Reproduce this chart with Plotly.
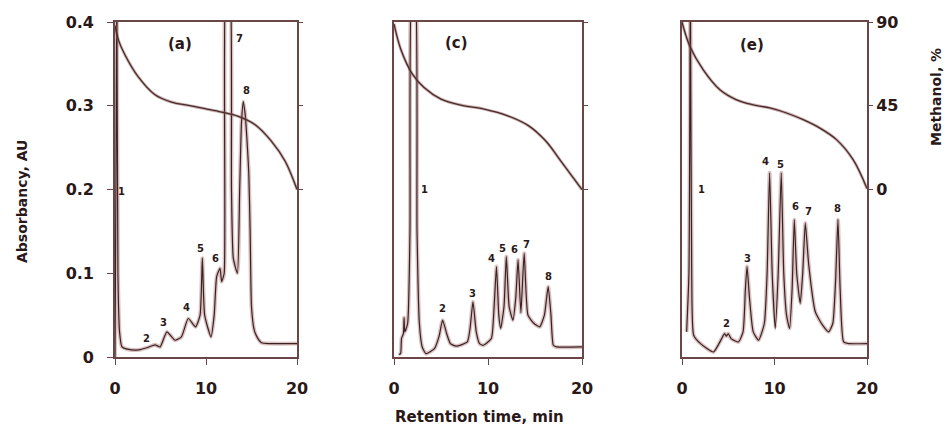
import plotly.graph_objects as go

# ---------------- data ----------------
# Panel (a) chromatogram: retention time (min) and absorbancy (AU)
t_a = [0.0, 0.1, 0.2, 0.32, 0.5, 0.75, 1.5, 2.6, 3.5, 4.4, 4.95, 5.7, 6.6, 7.3, 8.05, 8.85,
       9.35, 9.6, 9.85, 10.55, 10.9, 11.17, 11.54, 11.72, 12.0, 12.2, 12.4, 12.6, 12.8, 13.0,
       13.45, 13.7, 13.9, 14.1, 14.3, 14.5, 14.7, 14.85, 15.0, 15.3, 15.6, 16.1, 17.0, 20.0]
abs_a = [0.0, 0.2, 0.45, 0.1, 0.03, 0.0125, 0.009, 0.0085, 0.011, 0.0145, 0.012, 0.030, 0.020,
         0.024, 0.046, 0.036, 0.05, 0.118, 0.05, 0.024, 0.05, 0.096, 0.106, 0.09, 0.10, 0.45,
         0.45, 0.45, 0.2, 0.118, 0.10, 0.2, 0.28, 0.305, 0.29, 0.26, 0.22, 0.15, 0.06, 0.032,
         0.024, 0.017, 0.016, 0.016]

# Panel (c)
t_c = [0.5, 0.7, 0.8, 1.0, 1.07, 1.15, 1.45, 1.7, 1.95, 2.2, 2.45, 2.7, 3.0, 3.4, 4.3, 4.8,
       5.17, 5.6, 6.0, 6.6, 7.8, 8.1, 8.4, 8.75, 9.1, 9.5, 10.35, 10.65, 10.9, 11.15, 11.35,
       11.7, 11.95, 12.25, 12.65, 12.95, 13.2, 13.5, 13.85, 14.25, 14.9, 15.5, 16.0, 16.4,
       16.7, 16.95, 17.3, 20.0]
abs_c = [0.003, 0.004, 0.022, 0.028, 0.047, 0.03, 0.04, 0.15, 0.45, 0.45, 0.15, 0.04, 0.012,
         0.004, 0.01, 0.025, 0.044, 0.028, 0.016, 0.013, 0.018, 0.035, 0.066, 0.03, 0.016,
         0.014, 0.022, 0.06, 0.108, 0.05, 0.034, 0.06, 0.12, 0.06, 0.044, 0.07, 0.116, 0.053,
         0.124, 0.05, 0.04, 0.036, 0.05, 0.084, 0.05, 0.014, 0.012, 0.012]

# Panel (e)
t_e = [0.5, 0.75, 0.9, 1.05, 1.26, 2.0, 3.4, 4.29, 4.6, 4.8, 5.0, 5.3, 6.1, 6.6, 6.85, 7.03,
       7.3, 7.7, 8.28, 8.9, 9.2, 9.47, 9.75, 10.08, 10.4, 10.73, 11.0, 11.3, 11.63, 11.9,
       12.14, 12.4, 12.78, 13.05, 13.33, 13.7, 14.41, 15.2, 15.85, 16.3, 16.6, 16.86, 17.1,
       17.47, 18.0, 20.0]
abs_e = [0.03, 0.1, 0.45, 0.1, 0.026, 0.016, 0.006, 0.022, 0.028, 0.025, 0.028, 0.022, 0.018,
         0.03, 0.08, 0.108, 0.07, 0.03, 0.020, 0.04, 0.1, 0.22, 0.1, 0.034, 0.1, 0.22, 0.1,
         0.05, 0.034, 0.08, 0.164, 0.1, 0.064, 0.1, 0.160, 0.11, 0.054, 0.038, 0.030, 0.04,
         0.09, 0.164, 0.08, 0.018, 0.016, 0.016]

# Methanol gradient (%), per panel
grad_t_a = [0.0, 0.4, 1.1, 2.56, 4.4, 6.2, 8.05, 9.9, 11.7, 13.55, 15.4, 17.2, 18.7, 20.0]
grad_a = [88.0, 80.0, 72.3, 60.5, 50.9, 47.0, 45.2, 43.4, 41.6, 39.3, 34.8, 25.9, 15.2, 0.0]
grad_t_c = [0.0, 0.72, 1.96, 3.2, 5.0, 7.1, 9.6, 12.1, 14.3, 16.1, 17.85, 20.0]
grad_c = [89.0, 75.4, 62.0, 54.8, 48.6, 45.4, 43.2, 39.6, 34.3, 26.3, 14.6, 0.0]
grad_t_e = [0.0, 0.86, 2.3, 4.1, 5.9, 7.7, 9.5, 11.3, 13.1, 14.9, 16.7, 18.5, 20.0]
grad_e = [90.0, 76.8, 64.3, 53.6, 48.2, 45.5, 43.8, 41.1, 37.5, 33.0, 26.8, 16.0, 0.5]

# Peak labels and where they sit (time, AU)
peak_names = ["1", "2", "3", "4", "5", "6", "7", "8"]
label_t_a = [0.75, 3.5, 5.3, 7.9, 9.45, 11.0, 13.7, 14.5]
label_y_a = [0.198, 0.022, 0.041, 0.059, 0.130, 0.118, 0.380, 0.318]
label_t_c = [3.2, 5.17, 8.4, 10.35, 11.5, 12.8, 14.1, 16.4]
label_y_c = [0.200, 0.058, 0.076, 0.118, 0.130, 0.128, 0.134, 0.096]
label_t_e = [2.16, 4.86, 7.03, 9.0, 10.63, 12.25, 13.7, 16.8]
label_y_e = [0.200, 0.040, 0.118, 0.233, 0.230, 0.180, 0.174, 0.177]

panel_names = ["(a)", "(c)", "(e)"]
panel_label_t = [7.1, 6.6, 7.6]
panel_label_y = [0.374, 0.375, 0.372]

x_ticks = [0, 10, 20]
x_ticktext = ["0", "10", "20"]
au_ticks = [0, 0.1, 0.2, 0.3, 0.4]
au_ticktext = ["0", "0.1", "0.2", "0.3", "0.4"]
meoh_ticks = [0, 45, 90]
meoh_ticktext = ["0", "45", "90"]

# ---------------- styling ----------------
W, H = 947, 428
INK = "#3a2222"
HALO = "rgba(176,120,120,0.45)"
AXIS = "#6a4646"
FONT = "DejaVu Sans"
TXT = "#2a1818"

x_dom = [[115 / W, 297 / W], [394 / W, 582 / W], [682 / W, 867 / W]]
y_dom = [(H - 357) / H, (H - 22) / H]

fig = go.Figure()

panels = [
    (t_a, abs_a, grad_t_a, grad_a, label_t_a, label_y_a),
    (t_c, abs_c, grad_t_c, grad_c, label_t_c, label_y_c),
    (t_e, abs_e, grad_t_e, grad_e, label_t_e, label_y_e),
]

for i, (tt, aa, gt, gg, lt, ly) in enumerate(panels):
    xa = "x" if i == 0 else f"x{i+1}"
    ya = "y" if i == 0 else f"y{i+1}"
    ym = f"y{i+4}"
    fig.add_trace(go.Scatter(x=tt, y=aa, xaxis=xa, yaxis=ya, mode="lines",
                             line=dict(color=HALO, width=4, shape="spline", smoothing=0.5),
                             hoverinfo="skip", showlegend=False))
    fig.add_trace(go.Scatter(x=tt, y=aa, xaxis=xa, yaxis=ya, mode="lines",
                             line=dict(color=INK, width=1.2, shape="spline", smoothing=0.5),
                             showlegend=False))
    fig.add_trace(go.Scatter(x=gt, y=gg, xaxis=xa, yaxis=ym, mode="lines",
                             line=dict(color="rgba(150,100,100,0.5)", width=3, shape="spline"),
                             hoverinfo="skip", showlegend=False))
    fig.add_trace(go.Scatter(x=gt, y=gg, xaxis=xa, yaxis=ym, mode="lines",
                             line=dict(color="#4a2a2a", width=1.3, shape="spline"),
                             showlegend=False))
    for name, px, py in zip(peak_names, lt, ly):
        fig.add_annotation(x=px, y=py, xref=xa, yref=ya, text=name, showarrow=False,
                           xanchor="center", yanchor="middle",
                           font=dict(family=FONT, size=10, color=TXT, weight="bold"))
    fig.add_annotation(x=panel_label_t[i], y=panel_label_y[i], xref=xa, yref=ya,
                       text=panel_names[i], showarrow=False,
                       xanchor="center", yanchor="middle",
                       font=dict(family=FONT, size=15, color=TXT, weight="bold"))

    xkey = "xaxis" if i == 0 else f"xaxis{i+1}"
    ykey = "yaxis" if i == 0 else f"yaxis{i+1}"
    mkey = f"yaxis{i+4}"
    fig.update_layout(**{
        xkey: dict(domain=x_dom[i], range=[0, 20], anchor=ya, tickvals=x_ticks,
                   ticktext=x_ticktext, ticks="outside", ticklen=6, tickcolor=AXIS,
                   showline=True, linecolor=AXIS, linewidth=1.6, mirror=True,
                   showgrid=False, zeroline=False, ticklabelstandoff=10,
                   tickfont=dict(family=FONT, size=16, color=TXT, weight="bold"),
                   automargin=False),
        ykey: dict(domain=y_dom, range=[0, 0.4], anchor=xa, tickvals=au_ticks,
                   ticktext=au_ticktext, ticks="outside" if i == 0 else "",
                   ticklen=6, tickcolor=AXIS, showticklabels=(i == 0),
                   showline=True, linecolor=AXIS, linewidth=1.6, mirror=True,
                   showgrid=False, zeroline=False, ticklabelstandoff=10,
                   tickfont=dict(family=FONT, size=16, color=TXT, weight="bold"),
                   automargin=False),
        mkey: dict(overlaying=ya, anchor=xa, side="right", range=[-90, 90],
                   tickvals=meoh_ticks, ticktext=meoh_ticktext, ticks="outside",
                   ticklen=5, tickcolor=AXIS, showticklabels=(i == 2),
                   showline=False, showgrid=False, zeroline=False, ticklabelstandoff=0,
                   tickfont=dict(family=FONT, size=16, color=TXT, weight="bold"),
                   automargin=False),
    })

# axis titles
fig.add_annotation(x=22 / W, y=1 - 202 / H, xref="paper", yref="paper",
                   text="Absorbancy, AU", textangle=-90, showarrow=False,
                   xanchor="center", yanchor="middle",
                   font=dict(family=FONT, size=14, color=TXT, weight="bold"))
fig.add_annotation(x=936 / W, y=1 - 97 / H, xref="paper", yref="paper",
                   text="Methanol, %", textangle=-90, showarrow=False,
                   xanchor="center", yanchor="middle",
                   font=dict(family=FONT, size=14, color=TXT, weight="bold"))
fig.add_annotation(x=480 / W, y=1 - 417 / H, xref="paper", yref="paper",
                   text="Retention time, min", showarrow=False,
                   xanchor="center", yanchor="middle",
                   font=dict(family=FONT, size=15, color=TXT, weight="bold"))

fig.update_layout(width=W, height=H, margin=dict(l=0, r=0, t=0, b=0),
                  paper_bgcolor="white", plot_bgcolor="white", showlegend=False)

fig.write_html("out.html", config={"displayModeBar": False},
               post_script="document.body.style.margin='0';document.body.style.overflow='hidden';")
